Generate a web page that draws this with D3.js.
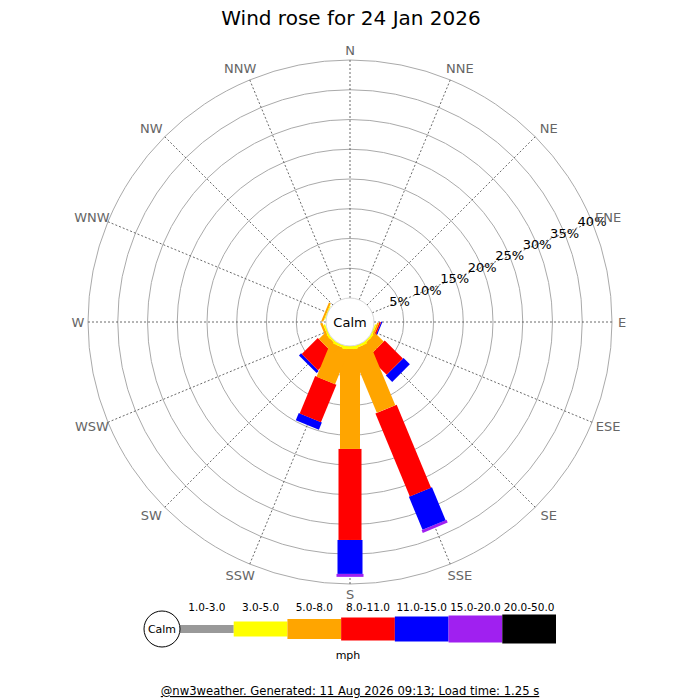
<!DOCTYPE html>
<html>
<head>
<meta charset="utf-8">
<script src="https://cdn.jsdelivr.net/npm/d3@7"></script>
<style>
  html, body { margin: 0; padding: 0; background: #fff; }
  svg { display: block; font-family: "DejaVu Sans", sans-serif; }
</style>
</head>
<body>
<svg id="chart" width="700" height="700"></svg>
<script>
// ---------- data ----------
const title = "Wind rose for 24 Jan 2026";
const footer = "@nw3weather. Generated: 11 Aug 2026 09:13; Load time: 1.25 s";
const directions = ["N","NNE","NE","ENE","E","ESE","SE","SSE","S","SSW","SW","WSW","W","WNW","NW","NNW"];
const speedBins = ["1.0-3.0","3.0-5.0","5.0-8.0","8.0-11.0","11.0-15.0","15.0-20.0","20.0-50.0"];
const speedUnit = "mph";
const percentTicks = [5, 10, 15, 20, 25, 30, 35, 40];
// percentage of time in each speed bin, per direction (same order as speedBins)
const freqN   = [0, 0, 0, 0, 0, 0, 0];
const freqNNE = [0, 0, 0, 0, 0, 0, 0];
const freqNE  = [0, 0, 0, 0, 0, 0, 0];
const freqENE = [0, 0, 0, 0, 0, 0, 0];
const freqE   = [0, 0, 0, 0, 0, 0, 0];
const freqESE = [0, 0.25, 0.3, 0.25, 0.2, 0, 0];
const freqSE  = [0, 0.3, 2.0, 4.3, 1.5, 0, 0];
const freqSSE = [0, 0.4, 11.4, 15.1, 6.0, 0.5, 0];
const freqS   = [0, 0.5, 16.8, 15.3, 5.7, 0.5, 0];
const freqSSW = [0, 0.4, 6.2, 6.8, 1.3, 0, 0];
const freqSW  = [0, 0.3, 1.4, 3.8, 0.5, 0, 0];
const freqWSW = [0, 0.3, 0.4, 0, 0, 0, 0];
const freqW   = [0, 0, 0, 0, 0, 0, 0];
const freqWNW = [0, 0.15, 0.35, 0, 0, 0, 0];
const freqNW  = [0, 0, 0, 0, 0, 0, 0];
const freqNNW = [0, 0, 0, 0, 0, 0, 0];
const freqs = [freqN,freqNNE,freqNE,freqENE,freqE,freqESE,freqSE,freqSSE,freqS,freqSSW,freqSW,freqWSW,freqW,freqWNW,freqNW,freqNNW];

// ---------- style ----------
const binColors = ["#999999","#ffff00","#ffa500","#ff0000","#0000ff","#a020f0","#000000"];
const binWidths = [8, 15, 20, 23, 25, 27, 29];
const cx = 350, cy = 322, calmR = 24, outerR = 262;

const svg = d3.select("#chart");

svg.append("text")
  .attr("x", 351).attr("y", 25)
  .attr("text-anchor", "middle")
  .attr("font-size", 20).attr("fill", "#000")
  .text(title);

const r = d3.scaleLinear().domain([0, d3.max(percentTicks)]).range([calmR, outerR]);
const angle = d3.scaleLinear().domain([0, directions.length]).range([0, 360]);

const g = svg.append("g").attr("transform", `translate(${cx},${cy})`);

// rings
g.selectAll("circle.ring").data(percentTicks).join("circle")
  .attr("class", "ring")
  .attr("r", d => r(d))
  .attr("fill", "none").attr("stroke", "#aaaaaa").attr("stroke-width", 1);

// spokes
g.selectAll("line.spoke").data(directions).join("line")
  .attr("class", "spoke")
  .attr("x1", (d, i) => r(0) * Math.sin(angle(i) * Math.PI / 180))
  .attr("y1", (d, i) => -r(0) * Math.cos(angle(i) * Math.PI / 180))
  .attr("x2", (d, i) => r(40) * Math.sin(angle(i) * Math.PI / 180))
  .attr("y2", (d, i) => -r(40) * Math.cos(angle(i) * Math.PI / 180))
  .attr("stroke", "#444").attr("stroke-width", 0.8).attr("stroke-dasharray", "2,2");

// bars
const segs = [];
freqs.forEach((arr, di) => {
  let cum = 0;
  arr.forEach((v, bi) => {
    if (v > 0) segs.push({ di, bi, start: cum, end: cum + v });
    cum += v;
  });
});
// outer bins first, inner bins drawn on top
segs.sort((a, b) => b.bi - a.bi);
g.selectAll("rect.bar").data(segs).join("rect")
  .attr("class", "bar")
  .attr("transform", d => `rotate(${angle(d.di)})`)
  .attr("x", d => -binWidths[d.bi] / 2)
  .attr("width", d => binWidths[d.bi])
  .attr("y", d => -r(d.end))
  .attr("height", d => r(d.end) - r(d.start))
  .attr("fill", d => binColors[d.bi]);

// calm circle
g.append("circle").attr("r", calmR).attr("fill", "#fff").attr("stroke", "#cccccc").attr("stroke-width", 0.8);
g.append("text").attr("x", 0).attr("y", 0)
  .attr("text-anchor", "middle").attr("dominant-baseline", "central")
  .attr("font-size", 13).attr("fill", "#000").text("Calm");

// percent labels along ENE
const labA = 67.5 * Math.PI / 180;
g.selectAll("text.pct").data(percentTicks).join("text")
  .attr("class", "pct")
  .attr("x", d => r(d) * Math.sin(labA))
  .attr("y", d => -r(d) * Math.cos(labA))
  .attr("text-anchor", "middle").attr("dominant-baseline", "central")
  .attr("font-size", 13).attr("fill", "#000")
  .text(d => d + "%");

// direction labels
g.selectAll("text.dir").data(directions).join("text")
  .attr("class", "dir")
  .attr("x", (d, i) => {
    const a = angle(i) * Math.PI / 180, s = Math.sin(a);
    const card = i % 4 === 0;
    return (card ? 272 : 274) * s + (card ? 0 : 5 * Math.sign(s));
  })
  .attr("y", (d, i) => {
    const a = angle(i) * Math.PI / 180;
    const card = i % 4 === 0;
    return -(card ? 272 : 274) * Math.cos(a);
  })
  .attr("text-anchor", "middle").attr("dominant-baseline", "central")
  .attr("font-size", 13).attr("fill", "#666666")
  .text(d => d);

// legend
const legY = 629;
const lx = d3.scaleBand().domain(speedBins).range([180, 556]).padding(0);
const leg = svg.append("g");
leg.selectAll("rect").data(speedBins).join("rect")
  .attr("x", d => lx(d))
  .attr("width", lx.bandwidth())
  .attr("y", (d, i) => legY - binWidths[i] / 2)
  .attr("height", (d, i) => binWidths[i])
  .attr("fill", (d, i) => binColors[i]);
leg.selectAll("text").data(speedBins).join("text")
  .attr("x", d => lx(d) + lx.bandwidth() / 2)
  .attr("y", 607)
  .attr("text-anchor", "middle").attr("dominant-baseline", "central")
  .attr("font-size", 10.5).attr("fill", "#000")
  .text(d => d);
leg.append("circle").attr("cx", 162).attr("cy", legY).attr("r", 18)
  .attr("fill", "#fff").attr("stroke", "#000").attr("stroke-width", 1);
leg.append("text").attr("x", 162).attr("y", legY)
  .attr("text-anchor", "middle").attr("dominant-baseline", "central")
  .attr("font-size", 11).attr("fill", "#000").text("Calm");
leg.append("text").attr("x", 348).attr("y", 655)
  .attr("text-anchor", "middle").attr("dominant-baseline", "central")
  .attr("font-size", 11).attr("fill", "#000").text(speedUnit);

// footer
svg.append("text").attr("x", 350).attr("y", 695)
  .attr("text-anchor", "middle")
  .attr("font-size", 11.6).attr("fill", "#000")
  .attr("text-decoration", "underline")
  .text(footer);
</script>
</body>
</html>
